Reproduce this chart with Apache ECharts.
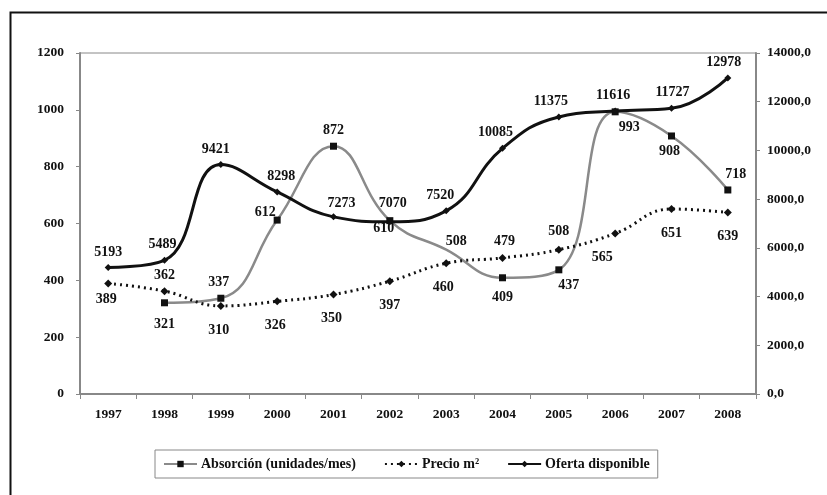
<!DOCTYPE html>
<html><head><meta charset="utf-8">
<script src="https://cdn.jsdelivr.net/npm/echarts@6/dist/echarts.min.js"></script>
<style>html,body{margin:0;padding:0;background:#fff}#c{width:827px;height:495px}</style>
</head><body><div id="c"></div>
<script>
const years = ['1997','1998','1999','2000','2001','2002','2003','2004','2005','2006','2007','2008'];
const absorcion = [null, 321, 337, 612, 872, 610, 508, 409, 437, 993, 908, 718];
const precio = [389, 362, 310, 326, 350, 397, 460, 479, 508, 565, 651, 639];
const oferta = [5193, 5489, 9421, 8298, 7273, 7070, 7520, 10085, 11375, 11616, 11727, 12978];
const seriesNames = ['Absorción (unidades/mes)', 'Precio m²', 'Oferta disponible'];

// label placement (style only)
const absLabelPos = [null, ['bottom',[0,6]], ['top',[-2,0]], ['left',[7,-8]], ['top',[0,0]], ['bottom',[-6,-8]], ['top',[10,4]], ['bottom',[0,4]], ['bottom',[10,0]], ['bottom',[14,0]], ['bottom',[-2,0]], ['top',[8,0]]];
const absHideMarker = [false, false, false, false, false, false, true, false, false, false, false, false];
const preLabelPos = [['bottom',[-2,0]], ['top',[0,0]], ['bottom',[-2,8]], ['bottom',[-2,8]], ['bottom',[-2,8]], ['bottom',[0,8]], ['bottom',[-3,8]], ['top',[2,0]], ['top',[0,-2]], ['bottom',[-13,8]], ['bottom',[0,8]], ['bottom',[0,8]]];
const ofeLabelPos = [['top',[0,0]], ['top',[-2,0]], ['top',[-5,0]], ['top',[4,0]], ['top',[8,2]], ['top',[3,-3]], ['top',[-6,0]], ['top',[-7,0]], ['top',[-8,0]], ['top',[-2,0]], ['top',[1,0]], ['top',[-4,0]]];

const FONT = '"Liberation Serif", "DejaVu Serif", serif';
const lblStyle = {fontFamily: FONT, fontWeight: 'bold', fontSize: 14, color: '#111'};

function mk(vals, pos, hide) {
  return vals.map((v, i) => {
    if (v === null) return null;
    const p = pos[i];
    const d = {value: v, label: Object.assign({show: true, position: p[0], offset: p[1], distance: 5}, lblStyle)};
    if (hide && hide[i]) d.symbolSize = 0;
    return d;
  });
}

const chart = echarts.init(document.getElementById('c'), null, {renderer: 'canvas'});
chart.setOption({
  animation: false,
  backgroundColor: '#fff',
  graphic: [{type: 'rect', left: 8, top: 10, shape: {x: 0, y: 0, width: 840, height: 500}, style: {fill: 'none', stroke: '#111', lineWidth: 2}, z: 100}],
  grid: {left: 80, right: 71, top: 53, bottom: 101, show: true, borderColor: '#888', borderWidth: 1},
  legend: {
    data: seriesNames,
    left: 155, top: 450,
    padding: [7, 8],
    itemGap: 28,
    itemWidth: 33, itemHeight: 8,
    borderColor: '#888', borderWidth: 1,
    textStyle: {fontFamily: FONT, fontWeight: 'bold', fontSize: 14, color: '#111', padding: [0, 0, 0, -1]}
  },
  xAxis: {
    type: 'category', data: years, boundaryGap: true,
    axisLine: {lineStyle: {color: '#888', width: 2}},
    axisTick: {show: true, length: 5, lineStyle: {color: '#888', width: 1}},
    axisLabel: {fontFamily: FONT, fontWeight: 'bold', fontSize: 13.5, color: '#111', margin: 14}
  },
  yAxis: [
    {type: 'value', min: 0, max: 1200, interval: 200, position: 'left',
     axisLine: {show: true, lineStyle: {color: '#888', width: 2}},
     axisTick: {show: true, length: 4, lineStyle: {color: '#888'}},
     splitLine: {show: false},
     axisLabel: {fontFamily: FONT, fontWeight: 'bold', fontSize: 13.5, color: '#111', margin: 16,
       formatter: v => String(v)}},
    {type: 'value', min: 0, max: 14000, interval: 2000, position: 'right',
     axisLine: {show: true, lineStyle: {color: '#888', width: 2}},
     axisTick: {show: true, length: 4, lineStyle: {color: '#888'}},
     splitLine: {show: false},
     axisLabel: {fontFamily: FONT, fontWeight: 'bold', fontSize: 13.5, color: '#111', margin: 11,
       formatter: v => v.toFixed(1).replace('.', ',')}}
  ],
  series: [
    {name: seriesNames[0], type: 'line', yAxisIndex: 0, smooth: 0.45,
     data: mk(absorcion, absLabelPos, absHideMarker),
     symbol: 'rect', symbolSize: 7,
     lineStyle: {color: '#8a8a8a', width: 2.5},
     itemStyle: {color: '#111', borderWidth: 0},
     z: 3},
    {name: seriesNames[1], type: 'line', yAxisIndex: 0, smooth: 0.45,
     data: mk(precio, preLabelPos),
     symbol: 'diamond', symbolSize: 8,
     lineStyle: {color: '#111', width: 3, type: [2, 4]},
     itemStyle: {color: '#111', borderWidth: 0},
     z: 4},
    {name: seriesNames[2], type: 'line', yAxisIndex: 1, smooth: 0.45,
     data: mk(oferta, ofeLabelPos),
     symbol: 'diamond', symbolSize: 7,
     lineStyle: {color: '#111', width: 3},
     itemStyle: {color: '#111', borderWidth: 0},
     z: 5}
  ]
});
</script></body></html>
